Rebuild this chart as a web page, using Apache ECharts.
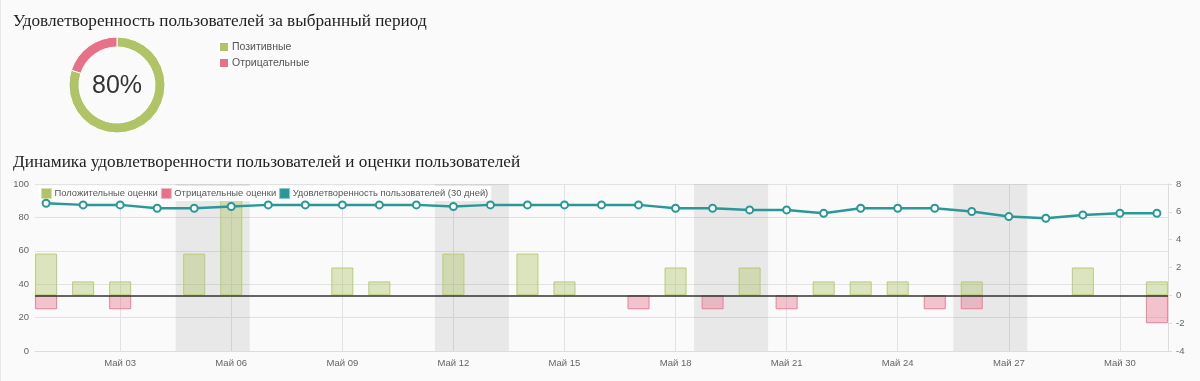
<!DOCTYPE html>
<html><head><meta charset="utf-8">
<script src="https://cdn.jsdelivr.net/npm/echarts@6/dist/echarts.min.js"></script>
<style>html,body{margin:0;padding:0;background:#fafafa;}#c{width:1200px;height:381px;}</style>
</head><body><div id="c"></div>
<script>
const monthLabel = 'Май';
const days = [1,2,3,4,5,6,7,8,9,10,11,12,13,14,15,16,17,18,19,20,21,22,23,24,25,26,27,28,29,30,31];
const positive = [3,1,1,null,3,7,null,null,2,1,null,3,null,3,1,null,null,2,null,2,null,1,1,1,null,1,null,null,2,null,1];
const negative = [-1,null,-1,null,null,null,null,null,null,null,null,null,null,null,null,null,-1,null,-1,null,-1,null,null,null,-1,-1,null,null,null,null,-2];
const satisfaction = [88.5,87.5,87.5,85.5,85.5,86.5,87.5,87.5,87.5,87.5,87.5,86.5,87.5,87.5,87.5,87.5,87.5,85.5,85.5,84.5,84.5,82.5,85.5,85.5,85.5,83.5,80.5,79.5,81.5,82.5,82.5];
const weekendDays = [5,6,12,13,19,20,26,27];
const xTickDays = [3,6,9,12,15,18,21,24,27,30];
const pieNames = ['Позитивные','Отрицательные'];
const pieValues = [80,20];
const seriesNames = ['Положительные оценки','Отрицательные оценки','Удовлетворенность пользователей (30 дней)'];
const title1 = 'Удовлетворенность пользователей за выбранный период';
const title2 = 'Динамика удовлетворенности пользователей и оценки пользователей';

const GREEN = '#b0c467', PINK = '#e8718a', TEAL = '#2a9898';
const SANS = 'Liberation Sans, Arial, sans-serif';
const SERIF = 'Liberation Serif, Times New Roman, serif';
const pad = d => (d < 10 ? '0' : '') + d;
const pairs = arr => days.map((d,i) => [d, arr[i]]);

const chart = echarts.init(document.getElementById('c'), null, {renderer:'canvas'});
chart.setOption({
  backgroundColor: '#fafafa',
  animation: false,
  textStyle: {fontFamily: SANS},
  title: [
    {text: title1, left: 8, top: 8, textStyle:{fontFamily:SERIF, fontSize:17.2, fontWeight:'normal', color:'#222'}},
    {text: title2, left: 8, top: 149, textStyle:{fontFamily:SERIF, fontSize:17.2, fontWeight:'normal', color:'#222'}}
  ],
  graphic: [
    {type:'line', shape:{x1:0.5, y1:0, x2:0.5, y2:381}, style:{stroke:'#e8e8e8', lineWidth:1}, silent:true},
    {type:'text', x:117, y:86, style:{text: pieValues[0] + '%', fontSize:25, fill:'#333', fontFamily:SANS, textAlign:'center', textVerticalAlign:'middle'}}
  ],
  legend: [
    {orient:'vertical', left:218, top:41, itemWidth:10, itemHeight:10, itemGap:4, icon:'rect', padding:0,
     data: pieNames, textStyle:{fontSize:10.5, color:'#555', padding:[0,0,0,-2]}, selectedMode:false},
    {left:38, top:186, itemWidth:10, itemHeight:10, itemGap:3, icon:'rect', padding:[2,3], backgroundColor:'rgba(255,255,255,0.92)',
     selectedMode:false, textStyle:{fontSize:9.4, color:'#555', padding:[0,0,0,-2]},
     data: [
       {name: seriesNames[0], itemStyle:{color:GREEN, borderColor:'#d7e0ae', borderWidth:1}},
       {name: seriesNames[1], itemStyle:{color:PINK, borderColor:'#f3b3c1', borderWidth:1}},
       {name: seriesNames[2], itemStyle:{color:TEAL, borderColor:'#8cc9c9', borderWidth:1}}
     ]}
  ],
  grid: {left:35, right:32, top:184, bottom:30, containLabel:false},
  xAxis: {type:'value', min:0.7, max:31.3,
    axisLine:{show:true, lineStyle:{color:'#ddd'}},
    axisTick:{show:false, customValues: xTickDays},
    axisLabel:{customValues: xTickDays, formatter: v => monthLabel + ' ' + pad(v), color:'#666', fontSize:9.5, margin:7},
    splitLine:{show:true, lineStyle:{color:'#e2e2e2'}}
  },
  yAxis: [
    {type:'value', min:0, max:100, interval:20, position:'left',
     axisLine:{show:false}, axisTick:{show:false},
     axisLabel:{color:'#666', fontSize:9.5, margin:6},
     splitLine:{show:true, lineStyle:{color:'#e2e2e2'}}},
    {type:'value', min:-4, max:8, interval:2, position:'right',
     axisLine:{show:true, lineStyle:{color:'#ddd'}}, axisTick:{show:true, length:4, lineStyle:{color:'#ddd'}},
     axisLabel:{color:'#666', fontSize:9.5, margin:8},
     splitLine:{show:false}}
  ],
  series: [
    {type:'pie', name:'pie', center:[117,85], radius:[38,48], startAngle:90, clockwise:true,
     label:{show:false}, labelLine:{show:false}, silent:true,
     itemStyle:{borderColor:'#fff', borderWidth:1},
     data: pieNames.map((n,i)=>({name:n, value:pieValues[i], itemStyle:{color: i===0?GREEN:PINK}}))},
    {type:'bar', name:seriesNames[0], xAxisIndex:0, yAxisIndex:1, stack:'r', barWidth:22,
     itemStyle:{color:'rgba(176,196,103,0.4)', borderColor:'#b8cc74', borderWidth:1},
     data: pairs(positive),
     markArea:{silent:true, itemStyle:{color:'rgba(0,0,0,0.07)'},
       data: weekendDays.map(d => [{xAxis:d-0.5},{xAxis:d+0.5}])},
     markLine:{silent:true, symbol:'none', label:{show:false}, lineStyle:{color:'#333', width:1.5, type:'solid'},
       data:[{yAxis:0}]}
    },
    {type:'bar', name:seriesNames[1], xAxisIndex:0, yAxisIndex:1, stack:'r', barWidth:22,
     itemStyle:{color:'rgba(232,113,138,0.4)', borderColor:'#e8819a', borderWidth:1},
     data: pairs(negative)},
    {type:'line', name:seriesNames[2], xAxisIndex:0, yAxisIndex:0, z:5,
     symbol:'circle', symbolSize:7, showAllSymbol:true,
     lineStyle:{color:TEAL, width:2.5}, itemStyle:{color:'#fff', borderColor:TEAL, borderWidth:2},
     data: pairs(satisfaction)}
  ]
});
</script></body></html>
